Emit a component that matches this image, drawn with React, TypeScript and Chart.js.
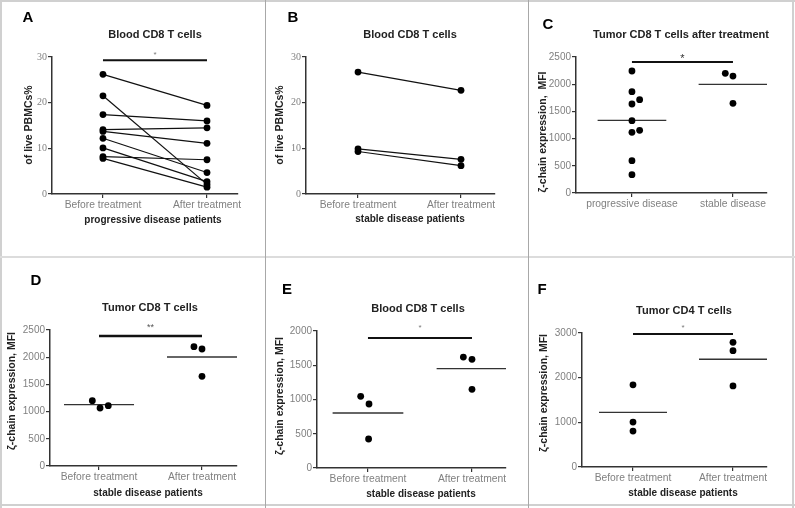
import React, { useEffect, useRef } from "react";
import { Chart, registerables } from "chart.js";
Chart.register(...registerables);

const W = 795;
const H = 508;

// ---------- DATA ----------
// Panel A: paired blood CD8 (progressive disease)
const aCategories = ["Before treatment", "After treatment"];
const aBefore = [26.2, 21.5, 17.4, 14.1, 13.7, 12.2, 10.1, 8.2, 7.8];
const aAfter = [19.4, 2.1, 16.0, 14.5, 11.1, 4.7, 2.7, 7.5, 1.5];

// Panel B: paired blood CD8 (stable disease)
const bCategories = ["Before treatment", "After treatment"];
const bBefore = [26.7, 9.9, 9.3];
const bAfter = [22.7, 7.6, 6.2];

// Panel C: tumor CD8 after treatment
const cCategories = ["progressive disease", "stable disease"];
const cProgressive = [2243, 1863, 1716, 1636, 1330, 1152, 1115, 594, 337];
const cProgressiveJitter = [0, 0, 0.076, 0, 0, 0.076, 0, 0, 0];
const cStable = [2200, 2150, 1648];
const cStableJitter = [-0.076, 0, 0];
const cMeans = [1336, 1997];

// Panel D: tumor CD8 (stable disease)
const dCategories = ["Before treatment", "After treatment"];
const dBefore = [1201, 1066, 1109];
const dBeforeJitter = [-0.065, 0.01, 0.09];
const dAfter = [2194, 2151, 1648];
const dAfterJitter = [-0.078, 0, 0];
const dMeans = [1127, 2004];

// Panel E: blood CD8 (stable disease)
const eCategories = ["Before treatment", "After treatment"];
const eBefore = [1046, 934, 423];
const eBeforeJitter = [-0.07, 0.01, 0.006];
const eAfter = [1620, 1586, 1148];
const eAfterJitter = [-0.083, 0, 0];
const eMeans = [803, 1450];

// Panel F: tumor CD4 (stable disease)
const fCategories = ["Before treatment", "After treatment"];
const fBefore = [1839, 1005, 804];
const fAfter = [2792, 2605, 1816];
const fMeans = [1221, 2412];

const ZETA_TITLE = "ζ-chain expression, MFI";

// ---------- helpers ----------
const POINT_R = 3.4;

function pairedSets(before: number[], after: number[]) {
  return before.map((b, i) => ({
    data: [
      { x: 0, y: b },
      { x: 1, y: after[i] },
    ],
    showLine: true,
    borderColor: "#111",
    borderWidth: 1.2,
    pointRadius: POINT_R,
    pointBackgroundColor: "#000",
    pointBorderColor: "#000",
    pointBorderWidth: 0,
  }));
}

function scatterSet(values: number[], cat: number, jitter?: number[]) {
  return {
    data: values.map((v, i) => ({ x: cat + (jitter ? jitter[i] : 0), y: v })),
    showLine: false,
    pointRadius: POINT_R,
    pointBackgroundColor: "#000",
    pointBorderColor: "#000",
    pointBorderWidth: 0,
  };
}

function meanSet(m: number, cat: number) {
  return {
    data: [
      { x: cat - 0.34, y: m },
      { x: cat + 0.34, y: m },
    ],
    showLine: true,
    borderColor: "#333",
    borderWidth: 1.3,
    pointRadius: 0,
  };
}

type Spec = {
  letter: string;
  title: string;
  yTitle: string;
  xTitle: string;
  categories: string[];
  yMax: number;
  yStep: number;
  tickFamily: string;
  datasets: any[];
  sig?: { y: number; label: string; font: string; color: string; dy: number; lw: number };
  box: { left: number; right: number; top: number; bottom: number; xmin: number; xmax: number };
  letterPos: [number, number];
  titlePos: [number, number];
  yTitlePos: [number, number];
  xTitlePos: [number, number];
};

const SANS = "'Liberation Sans', Arial, sans-serif";
const SERIF = "'Liberation Serif', 'Times New Roman', serif";

const specs: Spec[] = [
  {
    letter: "A",
    title: "Blood CD8 T cells",
    yTitle: "of live PBMCs%",
    xTitle: "progressive disease patients",
    categories: aCategories,
    yMax: 30,
    yStep: 10,
    tickFamily: SERIF,
    datasets: pairedSets(aBefore, aAfter),
    sig: { y: 29.3, label: "*", font: `8px ${SANS}`, color: "#777", dy: 5, lw: 2 },
    box: { left: 52, right: 238, top: 57, bottom: 194, xmin: -0.49, xmax: 1.298 },
    letterPos: [28, 18],
    titlePos: [155, 35],
    yTitlePos: [29, 125],
    xTitlePos: [153, 220],
  },
  {
    letter: "B",
    title: "Blood CD8 T cells",
    yTitle: "of live PBMCs%",
    xTitle: "stable disease patients",
    categories: bCategories,
    yMax: 30,
    yStep: 10,
    tickFamily: SERIF,
    datasets: pairedSets(bBefore, bAfter),
    box: { left: 306, right: 495, top: 57, bottom: 194, xmin: -0.505, xmax: 1.33 },
    letterPos: [293, 18],
    titlePos: [410, 35],
    yTitlePos: [280, 125],
    xTitlePos: [410, 219],
  },
  {
    letter: "C",
    title: "Tumor CD8 T cells after treatment",
    yTitle: "ζ-chain expression,  MFI",
    xTitle: "",
    categories: cCategories,
    yMax: 2500,
    yStep: 500,
    tickFamily: SANS,
    datasets: [
      scatterSet(cProgressive, 0, cProgressiveJitter),
      scatterSet(cStable, 1, cStableJitter),
      meanSet(cMeans[0], 0),
      meanSet(cMeans[1], 1),
    ],
    sig: { y: 2408, label: "*", font: `11px ${SANS}`, color: "#333", dy: 3, lw: 2 },
    box: { left: 576, right: 767, top: 57, bottom: 193, xmin: -0.554, xmax: 1.337 },
    letterPos: [548, 25],
    titlePos: [681, 35],
    yTitlePos: [543, 132],
    xTitlePos: [0, 0],
  },
  {
    letter: "D",
    title: "Tumor CD8 T cells",
    yTitle: ZETA_TITLE,
    xTitle: "stable disease patients",
    categories: dCategories,
    yMax: 2500,
    yStep: 500,
    tickFamily: SANS,
    datasets: [
      scatterSet(dBefore, 0, dBeforeJitter),
      scatterSet(dAfter, 1, dAfterJitter),
      meanSet(dMeans[0], 0),
      meanSet(dMeans[1], 1),
    ],
    sig: { y: 2390, label: "**", font: `9px ${SANS}`, color: "#555", dy: 8, lw: 2.5 },
    box: { left: 50, right: 237, top: 330, bottom: 466, xmin: -0.476, xmax: 1.34 },
    letterPos: [36, 281],
    titlePos: [150, 308],
    yTitlePos: [12, 391],
    xTitlePos: [148, 493],
  },
  {
    letter: "E",
    title: "Blood CD8 T cells",
    yTitle: ZETA_TITLE,
    xTitle: "stable disease patients",
    categories: eCategories,
    yMax: 2000,
    yStep: 500,
    tickFamily: SANS,
    datasets: [
      scatterSet(eBefore, 0, eBeforeJitter),
      scatterSet(eAfter, 1, eAfterJitter),
      meanSet(eMeans[0], 0),
      meanSet(eMeans[1], 1),
    ],
    sig: { y: 1898, label: "*", font: `8px ${SANS}`, color: "#777", dy: 10, lw: 2 },
    box: { left: 317, right: 506, top: 331, bottom: 468, xmin: -0.49, xmax: 1.327 },
    letterPos: [287, 290],
    titlePos: [418, 309],
    yTitlePos: [280, 396],
    xTitlePos: [421, 494],
  },
  {
    letter: "F",
    title: "Tumor CD4 T cells",
    yTitle: ZETA_TITLE,
    xTitle: "stable disease patients",
    categories: fCategories,
    yMax: 3000,
    yStep: 1000,
    tickFamily: SANS,
    datasets: [
      scatterSet(fBefore, 0),
      scatterSet(fAfter, 1),
      meanSet(fMeans[0], 0),
      meanSet(fMeans[1], 1),
    ],
    sig: { y: 2978, label: "*", font: `8px ${SANS}`, color: "#777", dy: 6, lw: 2 },
    box: { left: 582, right: 767, top: 333, bottom: 467, xmin: -0.51, xmax: 1.34 },
    letterPos: [542, 290],
    titlePos: [684, 311],
    yTitlePos: [544, 393],
    xTitlePos: [683, 493],
  },
];

const Y_AXIS_W = 40;
const X_AXIS_H = 30;

function makeConfig(spec: Spec): any {
  const decor = {
    id: "decor" + spec.letter,
    afterDraw(chart: any) {
      const ctx = chart.ctx as CanvasRenderingContext2D;
      const xs = chart.scales.x;
      const ys = chart.scales.y;
      ctx.save();
      ctx.textAlign = "center";
      ctx.textBaseline = "middle";
      // panel letter
      ctx.fillStyle = "#000";
      ctx.font = `bold 15px ${SANS}`;
      ctx.fillText(spec.letter, spec.letterPos[0], spec.letterPos[1]);
      // title
      ctx.fillStyle = "#222";
      ctx.font = `bold 11px ${SANS}`;
      ctx.fillText(spec.title, spec.titlePos[0], spec.titlePos[1]);
      // x title
      ctx.font = `bold 10px ${SANS}`;
      if (spec.xTitle) {
        ctx.fillText(spec.xTitle, spec.xTitlePos[0], spec.xTitlePos[1]);
      }
      // y title
      ctx.save();
      ctx.font = `bold 10.5px ${SANS}`;
      ctx.translate(spec.yTitlePos[0], spec.yTitlePos[1]);
      ctx.rotate(-Math.PI / 2);
      ctx.fillText(spec.yTitle, 0, 0);
      ctx.restore();
      // significance bar
      if (spec.sig) {
        const yb = ys.getPixelForValue(spec.sig.y);
        const x0 = xs.getPixelForValue(0);
        const x1 = xs.getPixelForValue(1);
        ctx.strokeStyle = "#111";
        ctx.lineWidth = spec.sig.lw;
        ctx.beginPath();
        ctx.moveTo(x0, yb);
        ctx.lineTo(x1, yb);
        ctx.stroke();
        ctx.fillStyle = spec.sig.color;
        ctx.font = spec.sig.font;
        ctx.fillText(spec.sig.label, (x0 + x1) / 2, yb - spec.sig.dy);
      }
      ctx.restore();
    },
  };

  return {
    type: "scatter",
    data: { datasets: spec.datasets },
    plugins: [decor],
    options: {
      animation: false,
      responsive: false,
      devicePixelRatio: 1,
      events: [],
      layout: {
        padding: {
          left: spec.box.left - Y_AXIS_W,
          right: W - spec.box.right,
          top: spec.box.top,
          bottom: H - spec.box.bottom - X_AXIS_H,
        },
      },
      plugins: {
        legend: { display: false },
        tooltip: { enabled: false },
        title: { display: false },
      },
      scales: {
        x: {
          type: "linear",
          min: spec.box.xmin,
          max: spec.box.xmax,
          afterBuildTicks: (s: any) => {
            s.ticks = [{ value: 0 }, { value: 1 }];
          },
          afterFit: (s: any) => {
            s.height = X_AXIS_H;
          },
          ticks: {
            callback: (v: number) => spec.categories[Math.round(v)],
            color: "#808080",
            font: { family: SANS, size: 10.3 },
            padding: 1,
            maxRotation: 0,
            autoSkip: false,
          },
          grid: {
            display: true,
            drawOnChartArea: false,
            drawTicks: true,
            tickLength: 4,
            color: "#333",
            lineWidth: 1.2,
          },
          border: { display: true, color: "#333", width: 1.5 },
        },
        y: {
          type: "linear",
          min: 0,
          max: spec.yMax,
          afterFit: (s: any) => {
            s.width = Y_AXIS_W;
          },
          ticks: {
            stepSize: spec.yStep,
            callback: (v: number) => String(v),
            color: "#808080",
            font: { family: spec.tickFamily, size: 10 },
            padding: 1,
          },
          grid: {
            display: true,
            drawOnChartArea: false,
            drawTicks: true,
            tickLength: 4,
            color: "#333",
            lineWidth: 1.2,
          },
          border: { display: true, color: "#333", width: 1.5 },
        },
      },
    },
  };
}

function PanelCanvas({ spec }: { spec: Spec }) {
  const ref = useRef<HTMLCanvasElement | null>(null);
  useEffect(() => {
    if (!ref.current) return;
    const chart = new Chart(ref.current, makeConfig(spec));
    return () => chart.destroy();
  }, [spec]);
  return (
    <canvas
      ref={ref}
      width={W}
      height={H}
      style={{ position: "absolute", left: 0, top: 0, width: W, height: H, pointerEvents: "none" }}
    />
  );
}

export default function App() {
  useEffect(() => {
    document.body.style.margin = "0";
  }, []);
  const line = (style: React.CSSProperties) => (
    <div style={{ position: "absolute", ...style }} />
  );
  return (
    <div style={{ position: "relative", width: W, height: H, background: "#fff", overflow: "hidden" }}>
      {/* outer frame */}
      {line({ left: 0, top: 0, width: W, height: 2, background: "#d0d0d0" })}
      {line({ left: 0, top: H - 4, width: W, height: 2, background: "#d0d0d0" })}
      {line({ left: 0, top: 0, width: 2, height: H, background: "#d0d0d0" })}
      {line({ left: W - 3, top: 0, width: 2, height: H, background: "#d0d0d0" })}
      {/* separators */}
      {line({ left: 0, top: 256, width: W, height: 2, background: "#dcdcdc" })}
      {line({ left: 265, top: 0, width: 1, height: H, background: "#a8a8a8" })}
      {line({ left: 528, top: 0, width: 1, height: H, background: "#a8a8a8" })}
      {specs.map((s) => (
        <PanelCanvas key={s.letter} spec={s} />
      ))}
    </div>
  );
}
